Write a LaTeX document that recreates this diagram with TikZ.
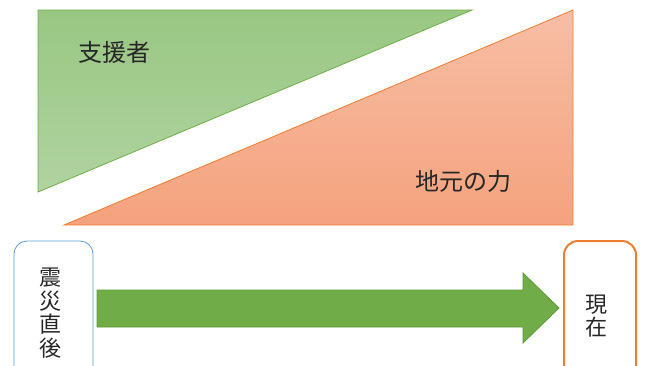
\documentclass[tikz,border=0pt]{standalone}
\usepackage{fontspec}
\newfontfamily\jp{Noto Sans CJK JP}
\definecolor{gTop}{HTML}{99C783}
\definecolor{gBot}{HTML}{B0D3A0}
\definecolor{gLine}{HTML}{70AD47}
\definecolor{oTop}{HTML}{F7BEA5}
\definecolor{oBot}{HTML}{F5A27D}
\definecolor{oLine}{HTML}{ED7D31}
\definecolor{bLine}{HTML}{5B9BD5}
\definecolor{arrFill}{HTML}{70AD47}
\definecolor{arrLine}{HTML}{5E9A3A}
\tikzset{
  lbl/.style={font=\jp\fontsize{24}{25}\selectfont, text=black!85, inner sep=0pt},
  vlbl/.style={font=\jp\fontsize{22}{23.5}\selectfont, text=black!85, inner sep=0pt, align=center},
}
\begin{document}
\begin{tikzpicture}[x=1pt,y=-1pt]
\useasboundingbox (0,0) rectangle (645,365);
\clip (0,0) rectangle (645,365);
% green triangle
\shade[top color=gTop, bottom color=gBot] (38,10) -- (472,10) -- (38,192) -- cycle;
\draw[gLine, line width=0.8pt] (38,10) -- (472,10) -- (38,192) -- cycle;
% orange triangle
\shade[top color=oTop, bottom color=oBot] (64,225) -- (573,225) -- (573,10) -- cycle;
\draw[oLine, line width=0.8pt] (64,225) -- (573,225) -- (573,10) -- cycle;
\node[lbl] (sup) at (114,52) {支援者};
\node[lbl] (local) at (463,181) {地元の力};
% boxes
\draw[bLine, line width=0.8pt, rounded corners=13pt] (14,241) rectangle (93,380);
\node[vlbl] (t1) at (50,313) {震\\災\\直\\後};
\draw[oLine, line width=2pt, rounded corners=14pt] (564,241) rectangle (636,380);
\node[vlbl] (t2) at (596,316) {現\\在};
% block arrow
\draw[fill=arrFill, draw=arrLine, line width=0.8pt]
  (97,290) -- (523,290) -- (523,273) -- (559,308) -- (523,343) -- (523,327) -- (97,327) -- cycle;
\end{tikzpicture}
\end{document}
